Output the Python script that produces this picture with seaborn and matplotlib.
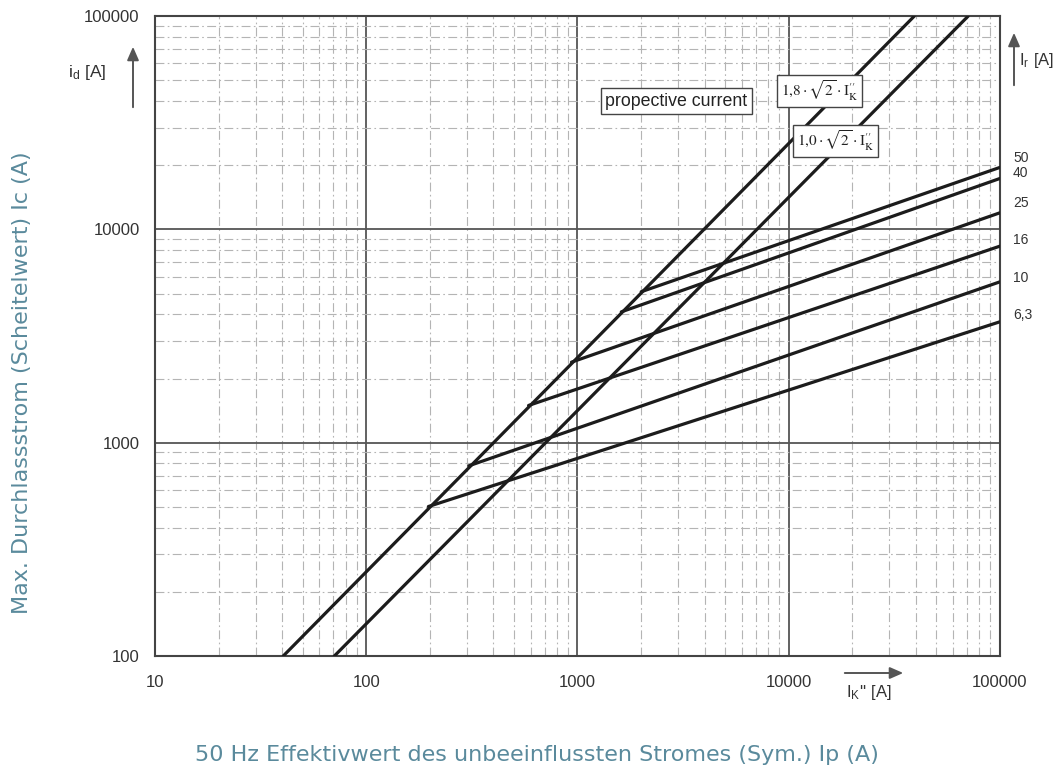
import numpy as np
import pandas as pd
import matplotlib
matplotlib.use("Agg")
import matplotlib.pyplot as plt
import seaborn as sns
from matplotlib.ticker import LogLocator, NullFormatter

# ---------------- data ----------------
x_ticks = [10, 100, 1000, 10000, 100000]
x_tick_labels = ["10", "100", "1000", "10000", "100000"]
y_ticks = [100, 1000, 10000, 100000]
y_tick_labels = ["100", "1000", "10000", "100000"]

# prospective-current lines (1,8*sqrt2*Ik and 1,0*sqrt2*Ik)
peak18_ik = [40.5, 39300]
peak18_id = [100, 100000]
peak10_ik = [70.7, 70700]
peak10_id = [100, 100000]

# current-limited let-through lines per rated current I_r
ir_labels = ["6,3", "10", "16", "25", "40", "50"]
ir_start_ik = [197, 306, 587, 937, 1613, 2004]
ir_start_id = [502, 779, 1495, 2386, 4106, 5103]
ir_end_ik = [100000, 100000, 100000, 100000, 100000, 100000]
ir_end_id = [3690, 5680, 8350, 11970, 17340, 19540]

# ---------------- build a tidy table ----------------
rows = []
for ik, idv in zip(peak18_ik, peak18_id):
    rows.append(dict(curve="1.8", ik=ik, id=idv))
for ik, idv in zip(peak10_ik, peak10_id):
    rows.append(dict(curve="1.0", ik=ik, id=idv))
for lab, x0, y0, x1, y1 in zip(ir_labels, ir_start_ik, ir_start_id, ir_end_ik, ir_end_id):
    rows.append(dict(curve=lab, ik=x0, id=y0))
    rows.append(dict(curve=lab, ik=x1, id=y1))
df = pd.DataFrame(rows)

# ---------------- figure ----------------
sns.set_style("white")
plt.rcParams["font.family"] = ["Liberation Sans", "DejaVu Sans"]
plt.rcParams["mathtext.fontset"] = "stix"

fig = plt.figure(figsize=(10.57, 7.74), dpi=100)
ax = fig.add_axes([0.1466, 0.1525, 0.7994, 0.8266])
ax.set_xscale("log")
ax.set_yscale("log")
ax.set_xlim(10, 100000)
ax.set_ylim(100, 100000)

# grid
ax.xaxis.set_minor_locator(LogLocator(base=10, subs=np.arange(2, 10)))
ax.yaxis.set_minor_locator(LogLocator(base=10, subs=np.arange(2, 10)))
ax.xaxis.set_minor_formatter(NullFormatter())
ax.yaxis.set_minor_formatter(NullFormatter())
ax.grid(which="minor", color="#b4b4b4", lw=0.8, ls=(0, (8, 3, 1.5, 3)), zorder=0)
ax.grid(which="major", color="#555555", lw=1.3, ls="-", zorder=0)
ax.set_axisbelow(True)

sns.lineplot(data=df, x="ik", y="id", units="curve", estimator=None,
             color="#1c1c1c", lw=2.3, ax=ax, legend=False, zorder=3)

ax.set_xticks(x_ticks, labels=x_tick_labels)
ax.set_yticks(y_ticks, labels=y_tick_labels)
ax.tick_params(which="major", direction="out", length=6, width=1.3,
               color="#444444", labelsize=12, labelcolor="#333333")
ax.tick_params(axis="x", which="major", pad=8)
ax.tick_params(axis="y", which="major", pad=5)
ax.tick_params(which="minor", length=0)
ax.set_xlabel("")
ax.set_ylabel("")
for s in ax.spines.values():
    s.set_color("#444444")
    s.set_linewidth(1.5)
    s.set_visible(True)

# boxed annotations
box = dict(boxstyle="square,pad=0.25", fc="white", ec="#444444", lw=1.0)
ax.text(2930, 39900, "propective current", ha="center", va="center",
        fontsize=12.8, color="#222222", bbox=box, zorder=5)
ax.text(14000, 44500, r"$1{,}8\cdot\sqrt{2}\cdot\mathrm{I}_{\mathrm{K}}^{\prime\prime}$",
        ha="center", va="center", fontsize=11, color="#222222", bbox=box, zorder=5)
ax.text(16700, 25900, r"$1{,}0\cdot\sqrt{2}\cdot\mathrm{I}_{\mathrm{K}}^{\prime\prime}$",
        ha="center", va="center", fontsize=11, color="#222222", bbox=box, zorder=5)

# I_r value labels on the right
lab_y_px = {"50": 158, "40": 173, "25": 203, "16": 240, "10": 278, "6,3": 315}
for lab in ["50", "40", "25", "16", "10", "6,3"]:
    fig.text(1013 / 1057, 1 - lab_y_px[lab] / 774, lab, ha="left", va="center",
             fontsize=10, color="#333333")

# axis symbols with arrows
def px(xp, yp):
    return (xp / 1057, 1 - yp / 774)

arrow = dict(arrowstyle="-|>,head_length=0.8,head_width=0.35", color="#555555", lw=1.4)
fig.text(*px(68, 73), r"i$_\mathregular{d}$ [A]", ha="left", va="center",
         fontsize=12.5, color="#333333")
fig.add_artist(matplotlib.patches.FancyArrowPatch(px(133, 110), px(133, 44),
               transform=fig.transFigure, mutation_scale=10, **arrow))
fig.text(*px(1019, 60), r"I$_\mathregular{r}$ [A]", ha="left", va="center",
         fontsize=12, color="#333333")
fig.add_artist(matplotlib.patches.FancyArrowPatch(px(1014, 88), px(1014, 30),
               transform=fig.transFigure, mutation_scale=10, **arrow))
fig.text(*px(846, 693), r"I$_\mathregular{K}$'' [A]", ha="left", va="center",
         fontsize=12, color="#333333")
fig.add_artist(matplotlib.patches.FancyArrowPatch(px(842, 673), px(906, 673),
               transform=fig.transFigure, mutation_scale=10, **arrow))

# outer axis titles
title_col = "#5a8a9c"
fig.text(537 / 1057, 1 - 755 / 774,
         "50 Hz Effektivwert des unbeeinflussten Stromes (Sym.) Ip (A)",
         ha="center", va="center", fontsize=16, color=title_col,
         family=["DejaVu Sans"])
fig.text(22 / 1057, 1 - 383 / 774, "Max. Durchlassstrom (Scheitelwert) Ic (A)",
         ha="center", va="center", rotation=90, fontsize=16, color=title_col,
         family=["DejaVu Sans"])

fig.savefig("out.png", dpi=100)
